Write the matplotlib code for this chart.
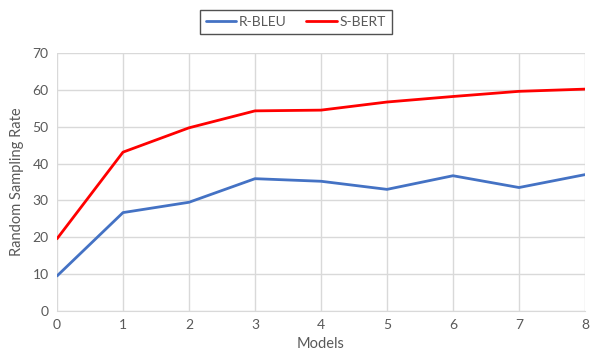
import matplotlib
matplotlib.use('Agg')
import matplotlib.pyplot as plt

models = [0, 1, 2, 3, 4, 5, 6, 7, 8]
r_bleu = [9.5, 26.7, 29.5, 35.9, 35.2, 33.0, 36.7, 33.5, 37.0]
s_bert = [19.6, 43.1, 49.7, 54.3, 54.5, 56.7, 58.2, 59.6, 60.2]

plt.rcParams['font.family'] = ['Lato', 'DejaVu Sans']
txt = '#595959'
grid = '#d9d9d9'

fig = plt.figure(figsize=(5.9, 3.61), dpi=100)
ax = fig.add_axes([57 / 590, 1 - 311 / 361, 528 / 590, 258 / 361])

ax.plot(models, r_bleu, color='#4472c4', lw=2.0, label='R-BLEU', solid_capstyle='round')
ax.plot(models, s_bert, color='#ff0000', lw=2.0, label='S-BERT', solid_capstyle='round')

ax.set_xlim(0, 8)
ax.set_ylim(0, 70)
ax.set_xticks(models)
ax.set_yticks(range(0, 71, 10))
ax.grid(True, color=grid, lw=1)
ax.set_axisbelow(True)
for s in ['top', 'right', 'left']:
    ax.spines[s].set_visible(False)
ax.spines['bottom'].set_color(grid)
ax.tick_params(length=0, colors=txt, labelsize=10, pad=6)

ax.set_xlabel('Models', color=txt, fontsize=10.5, labelpad=4)
ax.set_ylabel('Random Sampling Rate', color=txt, fontsize=10.5, labelpad=6)

leg = fig.legend(loc='center', bbox_to_anchor=(296 / 590, 1 - 22 / 361), ncol=2,
                 frameon=True, fancybox=False, edgecolor='#262626', fontsize=10,
                 handlelength=2.2, handletextpad=0.2, columnspacing=1.4,
                 borderpad=0.4, borderaxespad=0)
leg.get_frame().set_linewidth(1.0)
for t in leg.get_texts():
    t.set_color(txt)

fig.savefig('out.png', dpi=100)
